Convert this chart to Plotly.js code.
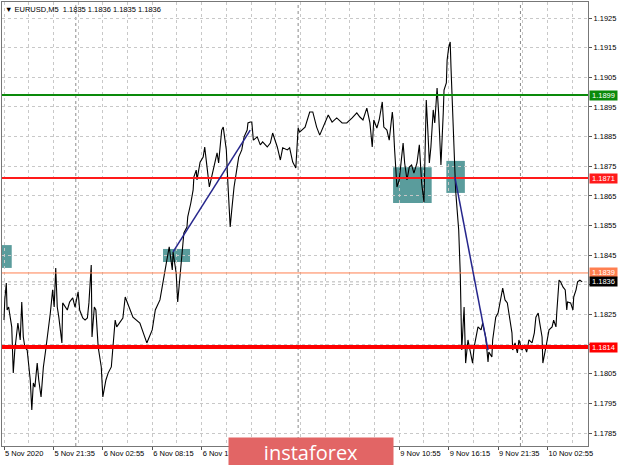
<!DOCTYPE html>
<html>
<head>
<meta charset="utf-8">
<script src="https://cdn.plot.ly/plotly-3.0.1.min.js"></script>
<style>html,body{margin:0;padding:0;background:#fff;}#chart{width:620px;height:465px;}</style>
</head>
<body>
<div id="chart"></div>
<script>
// ---- data (bar index of M5 bars, price) ----
const barIdx = [0,1,3,4,6,10,12,14,18,21,23,25,27,30,34,36,38,40,43,45,48,51,54,57,60,63,65,67,69,71,75,76,82,85,89,92,96,98,102,105,108,110,113,114,117,119,122,126,128,132,135,139,141,144,146,150,154,157,167,176,185,192,196,202,206,211,214,218,219,223,225,228,231,233,237,238,242,245,246,249,250,254,258,260,263,266,269,272,276,278,282,284,288,290,293,295,298,302,304,308,311,315,316,319,321,323,328,332,335,341,345,348,354,358,361,367,370,374,378,381,383,390,396,400,405,409,413,420,425,431,438,444,451,457,461,465,470,474,477,479,483,486,490,492,496,499,503,504,506,509,512,516,517,519,522,525,528,531,535,538,541,544,547,549,551,553,556,558,561,563,566,569,570,573,574,576,578,579,580,582,584,585,587,588,589,591,592,593,596,598,601,605,607,609,613,614,618,620,624,627,628,632,633,637,640,644,646,649,652,654,658,659,662,665,667,671,674,677,680,684,687,689,692,694,697,698,701,703,706,710,712,715,716,719,721,724,727,729,730,734,737,738,741,743,746,749];
const price = [1.18231,1.18299,1.18356,1.18265,1.18275,1.18208,1.18053,1.1813,1.18221,1.18164,1.18292,1.18174,1.1814,1.1813,1.18029,1.17928,1.18019,1.18005,1.18086,1.18029,1.17972,1.18073,1.1813,1.18188,1.18255,1.18333,1.18275,1.18407,1.18275,1.18241,1.18154,1.18289,1.18265,1.18292,1.18306,1.18275,1.18326,1.18265,1.18238,1.18231,1.18238,1.18289,1.18417,1.18174,1.18275,1.18265,1.1814,1.18073,1.17972,1.18029,1.18053,1.18073,1.1814,1.18231,1.18208,1.18225,1.18238,1.18309,1.18241,1.18221,1.18154,1.18198,1.18265,1.18299,1.18366,1.18434,1.18478,1.184,1.18461,1.1839,1.18292,1.18376,1.18457,1.18525,1.18545,1.18579,1.18626,1.1867,1.18714,1.18737,1.18704,1.18764,1.18781,1.18815,1.18747,1.1868,1.18714,1.18747,1.18795,1.18761,1.18872,1.18882,1.18805,1.18693,1.18545,1.18602,1.1868,1.18747,1.18781,1.18805,1.18849,1.18872,1.18896,1.18899,1.18899,1.18838,1.18849,1.18822,1.18832,1.18815,1.18828,1.18862,1.18815,1.18771,1.18812,1.18805,1.18812,1.18764,1.18744,1.18879,1.18865,1.18882,1.18933,1.18933,1.18882,1.18855,1.18882,1.18923,1.18899,1.18913,1.18896,1.18896,1.18913,1.1893,1.18916,1.18906,1.18946,1.18896,1.18815,1.18906,1.18879,1.18906,1.18967,1.18882,1.18872,1.18838,1.18933,1.18906,1.18805,1.1868,1.18704,1.18805,1.18828,1.18761,1.18704,1.18747,1.18754,1.18727,1.18761,1.18822,1.18693,1.18629,1.18973,1.18872,1.18761,1.18815,1.1894,1.18896,1.19014,1.1893,1.18754,1.1893,1.19007,1.19031,1.19108,1.1915,1.19169,1.19085,1.19007,1.18872,1.18737,1.1867,1.18602,1.18579,1.18535,1.1839,1.18198,1.1813,1.18275,1.18086,1.18164,1.18107,1.18086,1.1814,1.18188,1.18208,1.18198,1.18221,1.18174,1.1809,1.18123,1.18107,1.18164,1.18241,1.18255,1.18309,1.18339,1.18299,1.18289,1.18255,1.18188,1.1813,1.18154,1.1812,1.18164,1.1813,1.18147,1.18123,1.18164,1.18154,1.18188,1.18241,1.18255,1.18221,1.18174,1.18086,1.18123,1.18154,1.18198,1.18208,1.18231,1.18208,1.18255,1.18366,1.1836,1.18343,1.18333,1.18265,1.18292,1.18289,1.18265,1.18309,1.18333,1.1836,1.18366,1.1836];

const timeTickBars = [0,64,128,192,256,320,384,448,512,576,640,704];
const timeTickText = ["5 Nov 2020","5 Nov 21:35","6 Nov 02:55","6 Nov 08:15","6 Nov 13:35","","","","9 Nov 10:55","9 Nov 16:15","9 Nov 21:35","10 Nov 02:55"];
const minorGridBars = [32,96,160,224,288,352,416,480,544,608,672,736];
const daySeparatorBars = [93,381,669];

const priceTicks = [1.1785,1.1795,1.1805,1.1815,1.1825,1.1835,1.1845,1.1855,1.1865,1.1875,1.1885,1.1895,1.1905,1.1915,1.1925];
const priceTickText = ["1.1785","1.1795","1.1805","","1.1825","","1.1845","1.1855","1.1865","1.1875","1.1885","1.1895","1.1905","1.1915","1.1925"];

const levelValues = [1.1899,1.1871,1.1839,1.1814];
const levelColors = ["#0a8a0a","#ff1a1a","#ff7f50","#ff0000"];
const levelWidths = [2,2,1,4];

const bidPrice = 1.1836;

// zones: [barStart, barEnd, priceLow, priceHigh]
const zoneBarStart = [-3,206,504,573];
const zoneBarEnd = [10,241,554,597];
const zoneLow = [1.18407,1.18427,1.18626,1.1866];
const zoneHigh = [1.18484,1.18471,1.18747,1.18768];

// trend lines
const trendBar0 = [219,584];
const trendPrice0 = [1.18461,1.18714];
const trendBar1 = [319,627];
const trendPrice1 = [1.18872,1.1813];

const headerText = "EURUSD,M5  1.1835 1.1836 1.1835 1.1836";

// ---- build ----
const FONT = "Liberation Sans, Arial, sans-serif";
const shapes = [];
for (let i = 0; i < zoneBarStart.length; i++) {
  shapes.push({type:"rect", xref:"x", yref:"y", x0:zoneBarStart[i], x1:zoneBarEnd[i], y0:zoneLow[i], y1:zoneHigh[i],
    fillcolor:"#5a9c9c", line:{width:0}, layer:"below"});
}
daySeparatorBars.forEach(b => shapes.push({type:"line", xref:"x", yref:"paper", x0:b, x1:b, y0:0, y1:1,
  line:{color:"#8a8a8a", width:1, dash:"dot"}, layer:"below"}));
shapes.push({type:"line", xref:"paper", yref:"y", x0:0, x1:1, y0:bidPrice, y1:bidPrice,
  line:{color:"#b4b4b4", width:1, dash:"dot"}, layer:"below"});
for (let i = 0; i < levelValues.length; i++) {
  shapes.push({type:"line", xref:"paper", yref:"y", x0:0, x1:1, y0:levelValues[i], y1:levelValues[i],
    line:{color:levelColors[i], width:levelWidths[i]}, layer:"above"});
}
for (let i = 0; i < trendBar0.length; i++) {
  shapes.push({type:"line", xref:"x", yref:"y", x0:trendBar0[i], x1:trendBar1[i], y0:trendPrice0[i], y1:trendPrice1[i],
    line:{color:"#26268c", width:1.5}, layer:"above"});
}

const annotations = [];
for (let i = 0; i < levelValues.length; i++) {
  annotations.push({xref:"paper", yref:"y", x:1, y:levelValues[i], xanchor:"left", yanchor:"middle", xshift:1,
    text:levelValues[i].toFixed(4), showarrow:false, bgcolor:levelColors[i], width:27, height:9, borderpad:0,
    font:{family:FONT, size:7.5, color:"#ffffff"}});
}
annotations.push({xref:"paper", yref:"y", x:1, y:bidPrice, xanchor:"left", yanchor:"middle", xshift:1,
  text:bidPrice.toFixed(4), showarrow:false, bgcolor:"#000000", width:27, height:9, borderpad:0,
  font:{family:FONT, size:7.5, color:"#ffffff"}});
annotations.push({xref:"paper", yref:"paper", x:0, y:1, xanchor:"left", yanchor:"top", xshift:1, yshift:-1,
  text:"▼ " + headerText, showarrow:false, font:{family:FONT, size:7.5, color:"#000000"}});
annotations.push({xref:"paper", yref:"paper", x:0.3857, y:0, xanchor:"left", yanchor:"top", yshift:9,
  text:"instaforex", showarrow:false, bgcolor:"#e26565", width:164, height:28, borderpad:0,
  font:{family:"Open Sans, Liberation Sans, sans-serif", size:20, color:"#ffffff"}});

const trace = {x:barIdx, y:price, type:"scatter", mode:"lines",
  line:{color:"#000000", width:1.1}, hoverinfo:"skip"};

const layout = {
  width:620, height:465,
  margin:{l:2, r:32, t:2, b:19, pad:0},
  paper_bgcolor:"#ffffff", plot_bgcolor:"#ffffff",
  showlegend:false,
  xaxis:{range:[-2.6,756.5], tickmode:"array", tickvals:timeTickBars, ticktext:timeTickText, tickangle:0,
    ticklabelposition:"outside right", ticks:"outside", ticklen:3, tickcolor:"#555",
    tickfont:{family:FONT, size:7.5, color:"#000"},
    showgrid:true, gridcolor:"#c8c8c8", griddash:"dot", gridwidth:1,
    minor:{tickmode:"array", tickvals:minorGridBars, showgrid:true, gridcolor:"#c8c8c8", griddash:"dot", ticks:""},
    showline:true, linecolor:"#777", linewidth:1, mirror:true, zeroline:false, fixedrange:true},
  yaxis:{range:[1.178063,1.19304], side:"right", tickmode:"array", tickvals:priceTicks,
    ticktext:priceTickText, ticks:"outside", ticklen:3, tickcolor:"#555",
    tickfont:{family:FONT, size:7.5, color:"#000"},
    showgrid:true, gridcolor:"#c8c8c8", griddash:"dot", gridwidth:1,
    showline:true, linecolor:"#777", linewidth:1, mirror:true, zeroline:false, fixedrange:true},
  shapes:shapes,
  annotations:annotations
};

Plotly.newPlot("chart", [trace], layout, {displayModeBar:false, staticPlot:true});
</script>
</body>
</html>
